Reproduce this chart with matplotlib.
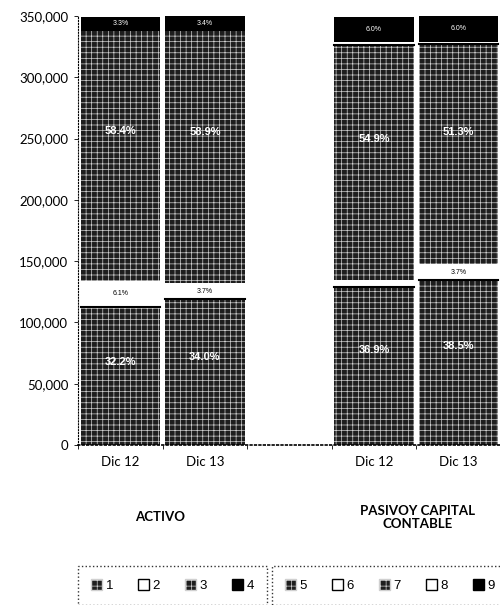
import matplotlib
matplotlib.use("Agg")
import matplotlib.pyplot as plt
from matplotlib.patches import Patch
import numpy as np

# categories on the x axis (the middle slot is left empty)
categorias = ["Dic 12", "Dic 13", "", "Dic 12", "Dic 13"]
y_ticks = [0, 50000, 100000, 150000, 200000, 250000, 300000, 350000]

# ACTIVO, series 1..4, for Dic 12 and Dic 13
activo_dic12 = [112600, 21200, 204200, 11500]
activo_dic13 = [119000, 13000, 206000, 12000]
# PASIVO Y CAPITAL CONTABLE, series 5..9
pasivo_dic12 = [129000, 5600, 191900, 2000, 21000]
pasivo_dic13 = [134600, 13000, 179400, 2000, 21000]

series_activo = ["1", "2", "3", "4"]
series_pasivo = ["5", "6", "7", "8", "9"]

plt.rcParams["hatch.linewidth"] = 0.5

# segment styles: (face, hatch colour, hatch, label colour)
MESH = ("#1e1e1e", "#d0d0d0", "+++", "white")
WHITE = ("white", "white", None, "black")
BLACK = ("black", "black", None, "white")
estilo_activo = [MESH, WHITE, MESH, BLACK]
estilo_pasivo = [MESH, WHITE, MESH, WHITE, BLACK]

fig = plt.figure(figsize=(5, 6.05), dpi=100)
ax = fig.add_axes([0.156, 0.2645, 0.846, 0.709])

x = np.arange(len(categorias))
ancho = 0.94


def apilar(pos, valores, estilos):
    total = sum(valores)
    base = 0
    for v, (fc, hc, hatch, tc) in zip(valores, estilos):
        ax.bar(pos, v, ancho, bottom=base, color=fc, edgecolor=hc,
               hatch=hatch, linewidth=0)
        if fc == "white":
            ax.plot([pos - ancho / 2, pos + ancho / 2], [base, base],
                    color="black", lw=1.5)
        pct = 100.0 * v / total
        if v > 40000:
            ax.text(pos, base + v * 0.6, "%.1f%%" % pct, color=tc,
                    ha="center", va="center", fontsize=8, fontweight="bold",
                    family="Liberation Sans")
        elif v > 8000:
            ax.text(pos, base + v / 2, "%.1f%%" % pct, color=tc,
                    ha="center", va="center", fontsize=5,
                    family="Liberation Sans")
        base += v


apilar(x[0], activo_dic12, estilo_activo)
apilar(x[1], activo_dic13, estilo_activo)
apilar(x[3], pasivo_dic12, estilo_pasivo)
apilar(x[4], pasivo_dic13, estilo_pasivo)

ax.set_xlim(-0.5, len(categorias) - 0.5)
ax.set_ylim(0, 350000)
ax.set_yticks(y_ticks)
ax.set_yticklabels(["{:,}".format(t) for t in y_ticks], family="Lato",
                   fontsize=9.5)
ax.set_xticks(x)
ax.set_xticklabels(categorias, family="Lato", fontsize=9.5)
ax.tick_params(axis="x", length=0, pad=8)
ax.tick_params(axis="y", length=3, pad=4, width=0.6)
ax.set_xticks(np.arange(len(categorias) + 1) - 0.5, minor=True)
ax.tick_params(axis="x", which="minor", length=3, width=0.6)
for s in ["top", "right"]:
    ax.spines[s].set_visible(False)
ax.spines["left"].set_linestyle(":")
ax.spines["bottom"].set_linestyle(":")
ax.spines["bottom"].set_linewidth(1.2)

# group titles
fig.text(0.32, 0.145, "ACTIVO", ha="center", va="center", family="Lato",
         fontweight="bold", fontsize=9.5)
fig.text(0.836, 0.145, "PASIVOY CAPITAL\nCONTABLE", ha="center",
         va="center", family="Lato", fontweight="bold", fontsize=9.5,
         linespacing=1.05)


def handles(nombres, estilos):
    hs = []
    for n, (fc, hc, hatch, tc) in zip(nombres, estilos):
        if fc == "white":
            hs.append(Patch(facecolor="white", edgecolor="black", label=n))
        else:
            hs.append(Patch(facecolor=fc, edgecolor=hc if hatch else "black",
                            hatch=hatch, label=n))
    return hs


for nombres, estilos, cx in [(series_activo, estilo_activo, 0.345),
                             (series_pasivo, estilo_pasivo, 0.78)]:
    leg = fig.legend(handles=handles(nombres, estilos), loc="upper center",
                     bbox_to_anchor=(cx, 0.075), ncol=len(nombres),
                     frameon=True, fancybox=False, handlelength=0.8,
                     handleheight=0.8, handletextpad=0.3, columnspacing=1.9,
                     borderpad=1.0, prop={"family": "Liberation Sans",
                                          "size": 9.5})
    fr = leg.get_frame()
    fr.set_linestyle(":")
    fr.set_edgecolor("black")
    fr.set_linewidth(1.0)

fig.savefig("out.png", dpi=100)
